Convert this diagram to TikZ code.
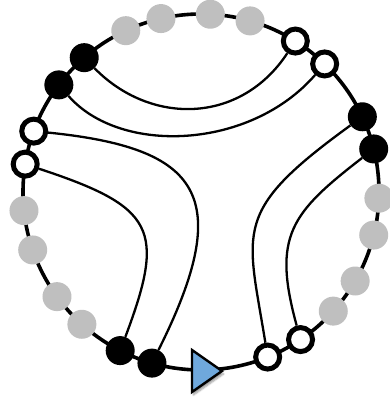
\documentclass[tikz,border=0pt]{standalone}
\usetikzlibrary{calc, shadows.blur}
\definecolor{dotgray}{RGB}{191,191,191}
\definecolor{arrowblue}{RGB}{111,168,220}

\begin{document}
\begin{tikzpicture}[x=1pt, y=-1pt,
  rim/.style={line width=3.6pt},
  chord/.style={line width=2.3pt},
  graydot/.style={circle, fill=dotgray, minimum size=29pt, inner sep=0pt},
  blackdot/.style={circle, fill=black, minimum size=29pt, inner sep=0pt},
  whitedot/.style={circle, draw, fill=white, line width=5pt, minimum size=24pt, inner sep=0pt}]
  \useasboundingbox (0,0) rectangle (389,404);
  \coordinate (O) at (201,192);
  \draw[rim] (O) circle[radius=178pt];
  % grey dots, in pairs
  \foreach \a in {-115,-103,-87,-74, 2,14,30,42, 132,144,161,174}
    \node[graydot] at ($(O)+(\a:178)$) {};
  % black dots
  \node[blackdot] (bl1) at ($(O)+(229:178)$) {};
  \node[blackdot] (bl2) at ($(O)+(217:178)$) {};
  \node[blackdot] (br1) at ($(O)+(-25:178)$) {};
  \node[blackdot] (br2) at ($(O)+(-14:178)$) {};
  \node[blackdot] (bb1) at ($(O)+(106:178)$) {};
  \node[blackdot] (bb2) at ($(O)+(117:178)$) {};
  % white dots
  \node[whitedot] (wl1) at ($(O)+(200:178)$) {};
  \node[whitedot] (wl2) at ($(O)+(189:178)$) {};
  \node[whitedot] (wt1) at ($(O)+(-58:178)$) {};
  \node[whitedot] (wt2) at ($(O)+(-46:178)$) {};
  \node[whitedot] (wb1) at ($(O)+(68:178)$) {};
  \node[whitedot] (wb2) at ($(O)+(56:178)$) {};
  % chords
  \draw[chord] (bl1) .. controls (150,125) and (240,125) .. (wt1);
  \draw[chord] (bl2) .. controls (120,155) and (250,150) .. (wt2);
  \draw[chord] (wl1) .. controls (200,148) and (236,195) .. (bb1);
  \draw[chord] (wl2) .. controls (155,207) and (166,229) .. (bb2);
  \draw[chord] (br1) .. controls (231,212) and (247,229) .. (wb1);
  \draw[chord] (br2) .. controls (291,213) and (272,236) .. (wb2);
  % direction mark
  \draw[line width=2.4pt, line join=miter, fill=arrowblue,
        blur shadow={shadow xshift=1.5pt, shadow yshift=-3pt, shadow blur steps=6}]
    (192,350) -- (222,371) -- (192,392) -- cycle;
\end{tikzpicture}
\end{document}
